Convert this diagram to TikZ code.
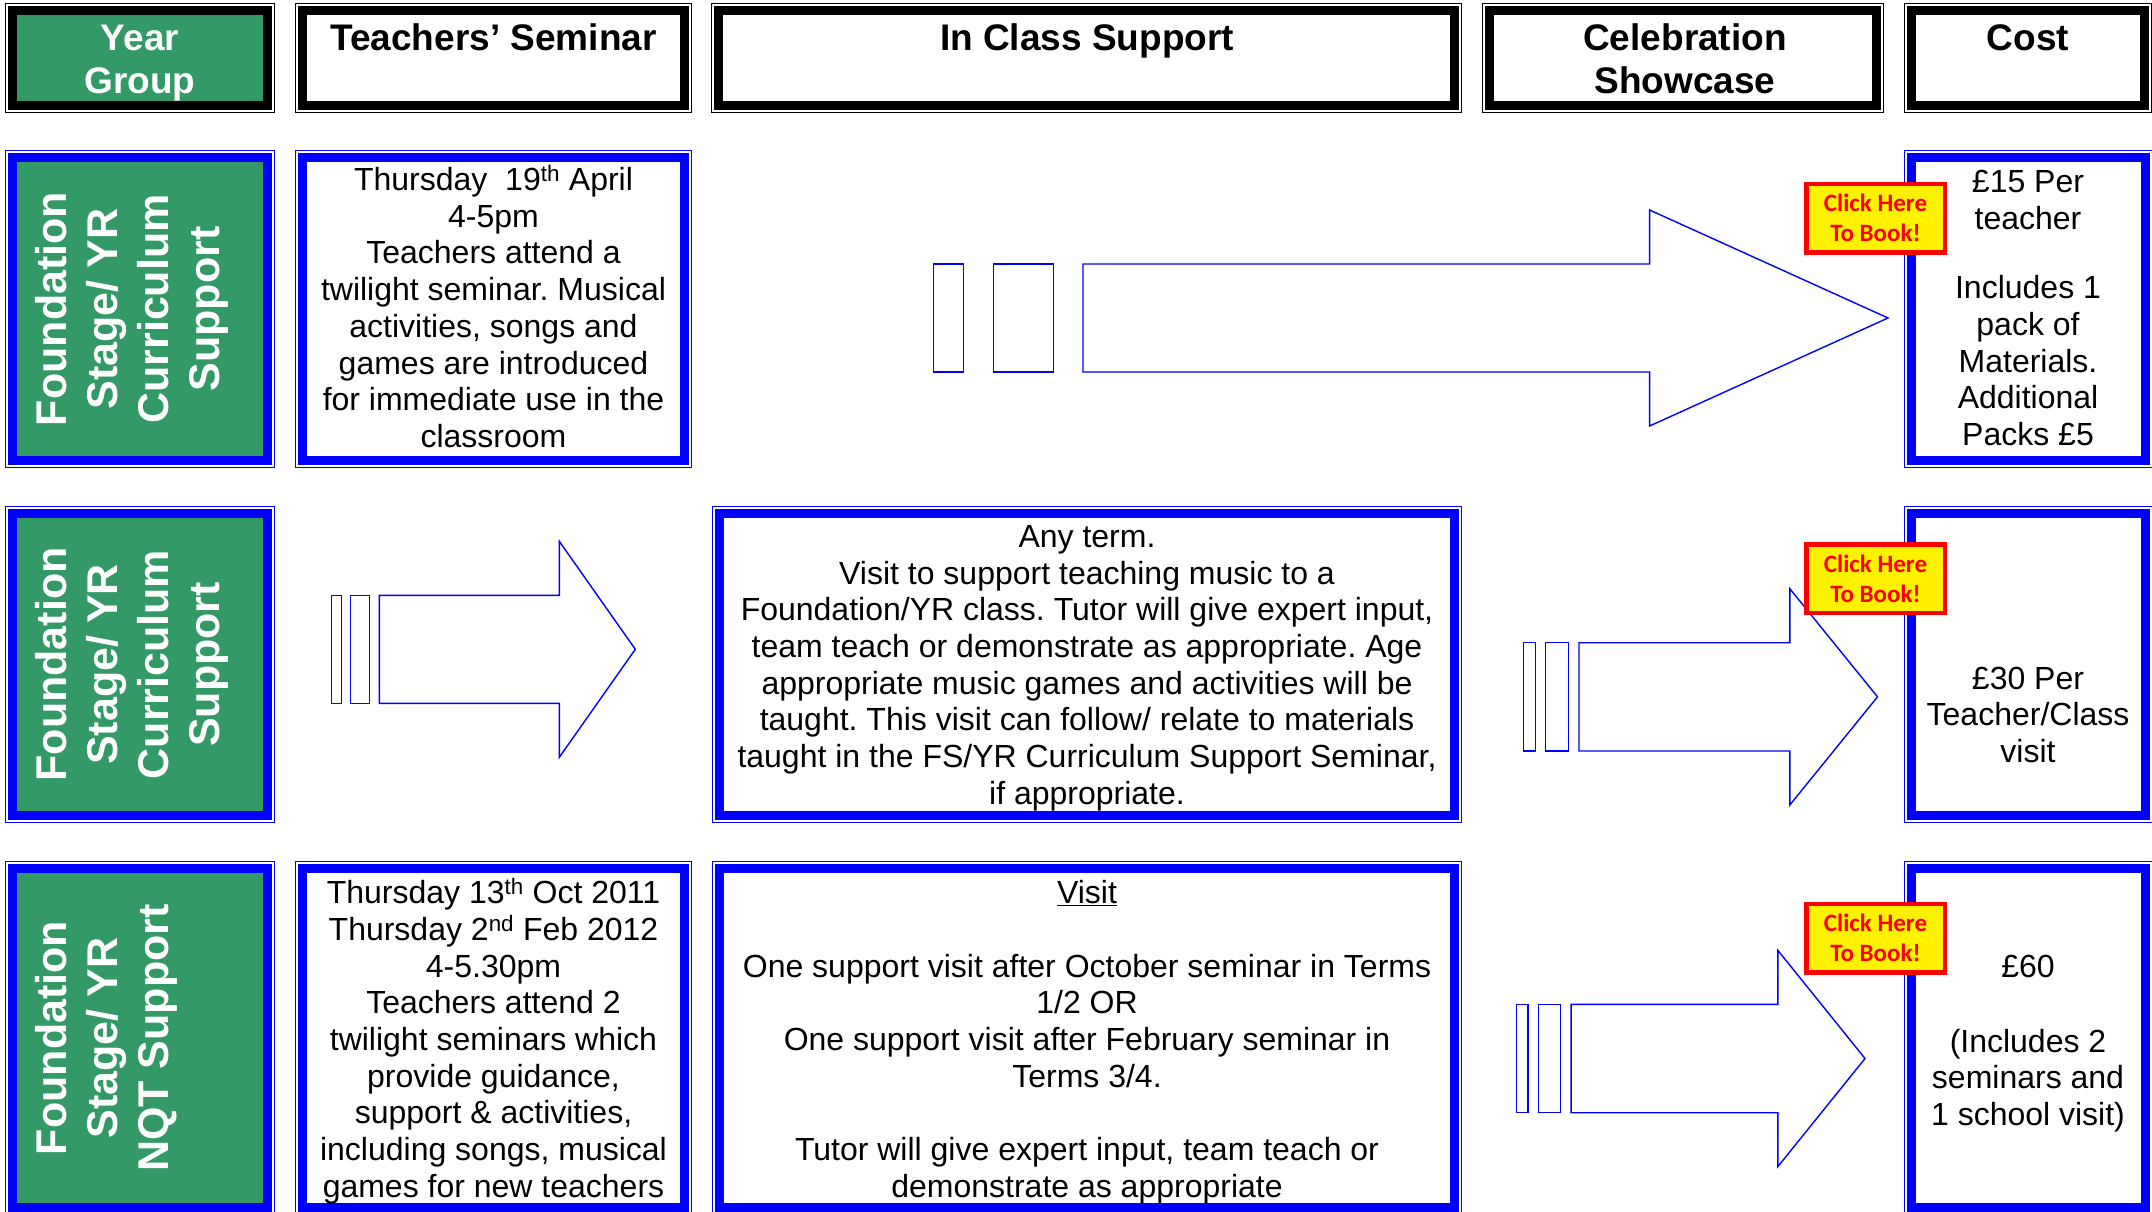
\documentclass[tikz,border=0pt]{standalone}
\usepackage{fontspec}
\setmainfont{Liberation Sans}
\newfontfamily\clickfont{Carlito}
\usetikzlibrary{positioning}
\frenchspacing

\definecolor{grpgreen}{RGB}{51,153,102}
\definecolor{frameblue}{RGB}{0,0,255}

% thin outer line + thick inner border, corners in pixel units
\newcommand{\cellframe}[5]{%
  \draw[#1, line width=1.3pt] (#2+0.65,#3+0.65) rectangle (#4-0.65,#5-0.65);
  \draw[#1, line width=9pt] (#2+7.5,#3+7.5) rectangle (#4-7.5,#5-7.5);
}
\newcommand{\greenfill}[4]{\fill[grpgreen] (#1+11,#2+11) rectangle (#3-11,#4-11);}
\newcommand{\bodystrut}{\rule{0pt}{30pt}}
\newcommand{\headstrut}{\rule{0pt}{33pt}}

\tikzset{
  headtext/.style={font=\fontsize{37}{43}\selectfont\bfseries, align=center, inner sep=0pt, anchor=north},
  grouptext/.style={font=\fontsize{43}{51}\selectfont\bfseries, text=white, align=center, inner sep=0pt, rotate=90, anchor=north},
  bodytext/.style={font=\fontsize{32}{36.7}\selectfont, align=center, inner sep=0pt, anchor=north},
  bookbtn/.style={draw=red, fill=yellow, line width=4.5pt, minimum width=138.5pt, minimum height=68.5pt, inner sep=0pt, text=red, align=center, font=\clickfont\fontsize{25}{30}\selectfont\bfseries},
  blockarrow/.style={draw=frameblue, line width=1.4pt}
}

\begin{document}
\begin{tikzpicture}[x=1pt, y=-1pt]
\useasboundingbox (0,0) rectangle (2152,1212);
\clip (0,0) rectangle (2152,1212);

% header row
\greenfill{5}{3}{275}{113}
\cellframe{black}{5}{3}{275}{113}
\cellframe{black}{295}{3}{692}{113}
\cellframe{black}{711}{3}{1462}{113}
\cellframe{black}{1482}{3}{1884}{113}
\cellframe{black}{1904}{3}{2152}{113}

\node[headtext, text=white] (hdyear) at (140,17) {\headstrut Year\\Group};
\node[headtext] (hdseminar) at (493.5,17) {\headstrut Teachers’ Seminar};
\node[headtext] (hdclass) at (1087,17) {\headstrut In Class Support};
\node[headtext] (hdshow) at (1685,17) {\headstrut Celebration\\Showcase};
\node[headtext] (hdcost) at (2028,17) {\headstrut Cost};

% row frames
\foreach \ya/\yb in {150/468, 506/823, 861/1215} {
  \greenfill{5}{\ya}{275}{\yb}
  \cellframe{frameblue}{5}{\ya}{275}{\yb}
  \cellframe{frameblue}{1904}{\ya}{2153}{\yb}
}
\cellframe{frameblue}{295}{150}{692}{468}
\cellframe{frameblue}{712}{506}{1462}{823}
\cellframe{frameblue}{295}{861}{692}{1215}
\cellframe{frameblue}{712}{861}{1462}{1215}

% striped block arrows
\foreach \ra/\rb/\sa/\sb/\bx/\hx/\tx/\yt/\yc in {
    933.7/963.7/993.3/1053.3/1083/1649.6/1888/264/372,
    331.7/341.3/350.7/369.7/379.3/559.3/635.3/595.3/703.3,
    1523.7/1535.3/1545.7/1568.2/1579/1789.8/1877.5/642.7/751,
    1516.6/1527.9/1538.3/1560.7/1571.1/1777.8/1865/1004.3/1112.7} {
  \draw[blockarrow] (\ra,\yt) rectangle (\rb,\yc);
  \draw[blockarrow] (\sa,\yt) rectangle (\sb,\yc);
  \draw[blockarrow] (\bx,\yt) -- (\hx,\yt) -- (\hx,\yt-54) -- (\tx,{(\yt+\yc)/2})
    -- (\hx,\yc+54) -- (\hx,\yc) -- (\bx,\yc) -- cycle;
}

% year groups
\node[grouptext] (grp1) at (35,309) {Foundation\\Stage/ YR\\Curriculum\\Support};
\node[grouptext] (grp2) at (35,664.5) {Foundation\\Stage/ YR\\Curriculum\\Support};
\node[grouptext] (grp3) at (35,1038) {Foundation\\Stage/ YR\\NQT Support};

% seminars
\node[bodytext] (sem1) at (493.5,160.3) {\bodystrut Thursday\ \ 19\textsuperscript{th} April\\4-5pm\\Teachers attend a\\twilight seminar. Musical\\activities, songs and\\games are introduced\\for immediate use in the\\classroom};
\node[bodytext] (sem3) at (493.5,873.5) {\bodystrut Thursday 13\textsuperscript{th} Oct 2011\\Thursday 2\textsuperscript{nd} Feb 2012\\4-5.30pm\\Teachers attend 2\\twilight seminars which\\provide guidance,\\support \& activities,\\including songs, musical\\games for new teachers};

% class support
\node[bodytext] (cls2) at (1087,517.2) {\bodystrut Any term.\\Visit to support teaching music to a\\Foundation/YR class. Tutor will give expert input,\\team teach or demonstrate as appropriate. Age\\appropriate music games and activities will be\\taught. This visit can follow/ relate to materials\\taught in the FS/YR Curriculum Support Seminar,\\if appropriate.};
\node[bodytext] (cls3) at (1087,873.5) {\bodystrut \underline{Visit}\\[36.7pt]One support visit after October seminar in Terms\\1/2 OR\\One support visit after February seminar in\\Terms 3/4.\\[36.7pt]Tutor will give expert input, team teach or\\demonstrate as appropriate};

% costs
\node[bodytext] (cost1) at (2028,162.2) {\bodystrut £15 Per\\teacher\\[33pt]Includes 1\\pack of\\Materials.\\Additional\\Packs £5};
\node[bodytext] (cost2) at (2028,658.8) {\bodystrut £30 Per\\Teacher/Class\\visit};
\node[bodytext] (cost3) at (2028,947.2) {\bodystrut £60\\[38pt](Includes 2\\seminars and\\1 school visit)};

% booking buttons
\node[bookbtn] (book1) at (1875.5,218.3) {Click Here\\To Book!};
\node[bookbtn] (book2) at (1875.5,578.5) {Click Here\\To Book!};
\node[bookbtn] (book3) at (1875.5,938.3) {Click Here\\To Book!};
\end{tikzpicture}
\end{document}
